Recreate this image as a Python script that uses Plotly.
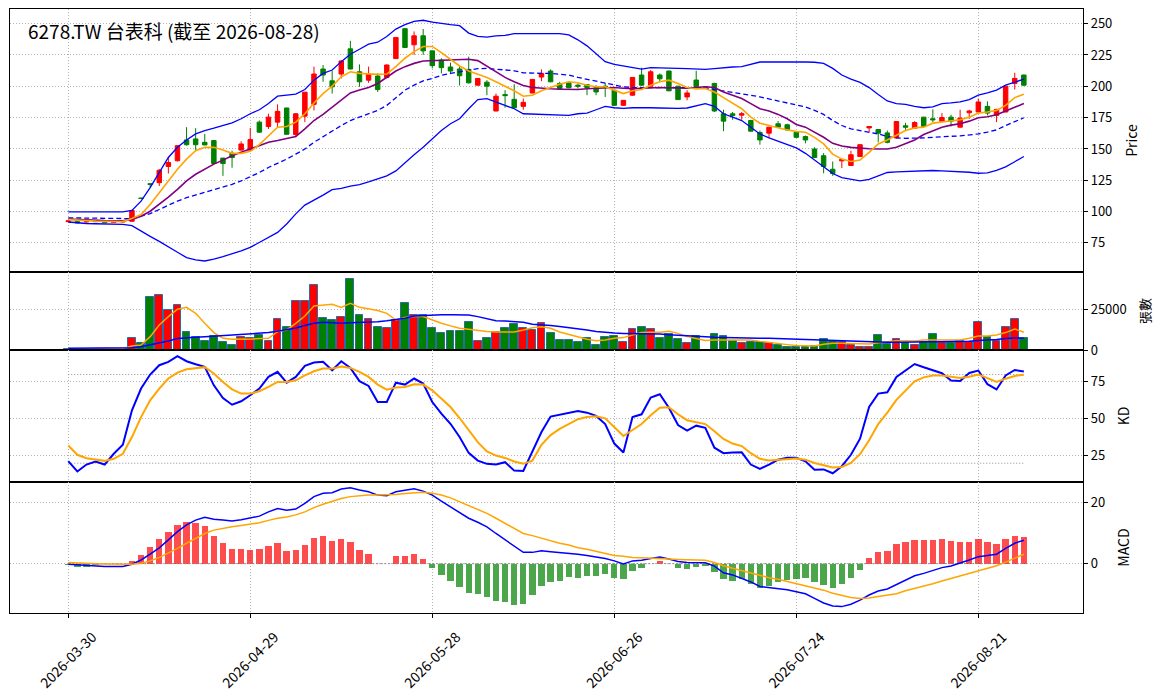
import plotly.graph_objects as go
from plotly.subplots import make_subplots

# ---------------- data ----------------
tick_pos = [0, 20, 40, 60, 80, 100]
tick_dates = ['2026-03-30', '2026-04-29', '2026-05-28', '2026-06-26', '2026-07-24', '2026-08-21']

opens = [92.0, 92.0, 91.8, 92.5, 92.0, 91.4, 91.8, 92.3, 110.8, 122.2,
         123.1, 136.0, 140.6, 157.2, 158.0, 155.3, 156.7, 142.7, 146.5, 149.1,
         149.1, 171.4, 167.9, 171.4, 182.7, 161.5, 176.2, 185.6, 213.8, 204.4,
         209.8, 229.9, 211.6, 204.9, 208.2, 207.1, 222.1, 246.0, 233.1, 240.3,
         228.3, 221.0, 215.4, 213.8, 213.5, 200.9, 203.3, 180.3, 193.4, 189.6,
         184.0, 194.7, 207.4, 212.2, 202.2, 202.8, 200.9, 201.4, 198.8, 200.1,
         196.9, 184.8, 192.9, 209.0, 200.1, 209.0, 212.2, 200.1, 191.5, 205.0,
         199.6, 202.3, 178.1, 178.1, 177.0, 172.7, 163.1, 162.6, 170.1, 169.3,
         163.4, 159.9, 150.0, 144.6, 133.8, 140.5, 136.8, 144.0, 166.8, 165.5,
         162.8, 158.8, 168.5, 166.6, 175.4, 174.1, 172.2, 175.4, 167.4, 178.9,
         179.5, 184.0, 176.8, 179.5, 202.3, 209.0]
highs = [93.2, 92.4, 92.2, 92.8, 92.3, 92.2, 92.4, 101.5, 111.0, 122.4,
         134.0, 143.8, 152.8, 167.4, 166.6, 162.0, 157.2, 142.9, 148.6, 156.1,
         166.8, 172.7, 178.1, 185.6, 182.9, 178.6, 195.5, 215.7, 217.0, 212.4,
         221.0, 236.3, 217.5, 215.7, 210.3, 217.5, 239.3, 246.5, 243.8, 245.7,
         228.6, 222.4, 218.9, 215.7, 223.7, 206.6, 204.9, 194.2, 196.9, 201.7,
         190.2, 205.8, 213.5, 213.5, 203.6, 203.1, 202.2, 201.7, 200.9, 202.8,
         197.2, 189.0, 207.4, 214.9, 213.0, 210.3, 212.5, 200.4, 196.9, 212.4,
         199.6, 202.8, 181.3, 179.5, 179.5, 173.3, 164.7, 167.6, 172.2, 170.1,
         164.0, 160.7, 151.3, 146.7, 140.0, 142.0, 148.6, 153.6, 168.1, 165.8,
         164.7, 172.1, 170.9, 172.2, 175.6, 181.6, 178.6, 177.3, 181.3, 181.3,
         190.2, 188.0, 182.0, 200.4, 210.8, 209.3]
lows = [91.5, 90.6, 91.4, 91.8, 90.8, 91.2, 91.5, 92.0, 110.2, 119.2,
        120.4, 130.4, 140.0, 152.6, 148.6, 153.0, 137.9, 128.5, 135.0, 148.6,
        148.6, 163.0, 166.0, 167.4, 161.5, 159.3, 171.4, 180.8, 203.6, 194.2,
        206.3, 213.5, 199.6, 202.8, 195.5, 206.3, 221.8, 230.7, 225.1, 225.1,
        214.3, 210.3, 209.8, 200.6, 202.2, 200.6, 192.9, 180.0, 182.9, 182.1,
        181.3, 194.4, 204.1, 203.3, 197.9, 198.5, 198.2, 192.9, 192.9, 191.5,
        184.5, 184.5, 192.6, 200.1, 199.8, 203.6, 196.1, 189.1, 188.8, 199.0,
        199.6, 179.5, 164.2, 173.3, 173.3, 164.0, 153.4, 158.8, 167.0, 164.7,
        158.8, 154.5, 142.7, 130.6, 128.5, 134.7, 136.5, 143.8, 163.4, 155.3,
        154.5, 158.6, 165.2, 166.0, 167.4, 171.4, 172.0, 167.9, 167.2, 174.1,
        179.3, 176.8, 171.4, 179.2, 197.4, 200.1]
closes = [92.6, 91.0, 92.0, 92.0, 91.2, 91.8, 92.0, 100.9, 110.5, 121.8,
          133.0, 139.2, 152.6, 153.4, 153.4, 153.2, 138.4, 138.4, 143.2, 154.0,
          157.5, 163.4, 175.4, 180.0, 161.7, 178.1, 195.3, 209.8, 209.0, 199.6,
          220.2, 213.8, 203.6, 209.8, 197.4, 217.0, 239.0, 231.0, 240.3, 228.3,
          216.5, 214.9, 212.2, 208.4, 202.8, 206.3, 200.1, 192.1, 192.6, 182.9,
          187.2, 205.5, 210.3, 203.6, 198.2, 198.8, 200.1, 199.0, 195.5, 199.3,
          184.8, 188.8, 207.1, 200.9, 211.6, 206.0, 196.4, 189.4, 194.7, 199.6,
          199.6, 180.3, 172.2, 176.8, 178.1, 164.2, 157.2, 167.4, 167.4, 165.2,
          159.3, 157.2, 143.2, 136.0, 130.4, 141.6, 145.4, 153.4, 167.9, 162.6,
          155.3, 171.9, 167.4, 171.1, 167.9, 173.3, 175.1, 172.2, 174.6, 180.3,
          187.5, 178.6, 181.6, 200.1, 206.3, 200.9]
volumes = [600, 400, 400, 500, 400, 500, 600, 7200, 4500, 32400,
           33800, 24600, 27700, 11100, 7800, 5500, 8600, 4900, 2900, 7800,
           7200, 9000, 5700, 18900, 13900, 30300, 30300, 39700, 19500, 18400,
           20500, 43400, 21300, 19300, 13900, 13300, 18400, 28700, 21700, 21700,
           13300, 10200, 11900, 11900, 17000, 5700, 7200, 11300, 13300, 16000,
           13300, 12300, 16400, 10200, 5900, 5900, 4700, 7200, 3300, 7800,
           8400, 4700, 12700, 13900, 12700, 7200, 9600, 6600, 4100, 8600,
           0, 9600, 8400, 5500, 4100, 4900, 4900, 4100, 2900, 1600,
           1600, 1600, 2500, 6600, 5300, 5100, 3100, 2000, 2000, 9000,
           3500, 6600, 4100, 3300, 4900, 9600, 4500, 4100, 5700, 5100,
           17000, 8200, 5300, 14300, 18900, 7200]

ma5 = [93.6, 93.0, 92.6, 92.4, 92.2, 92.0, 92.0, 94.5, 97.6, 105.7,
       115.1, 124.5, 133.8, 141.9, 148.6, 151.3, 151.3, 149.1, 146.5, 146.5,
       148.1, 153.4, 160.7, 167.4, 167.9, 171.4, 178.1, 186.7, 194.2, 200.1,
       207.6, 211.6, 210.3, 209.8, 209.5, 209.8, 215.7, 222.4, 227.7, 231.8,
       231.8, 226.9, 221.6, 216.2, 212.2, 209.8, 207.1, 203.6, 200.1, 196.4,
       192.1, 192.9, 196.4, 199.0, 201.7, 203.6, 202.8, 200.9, 199.6, 199.6,
       196.9, 194.2, 196.4, 197.4, 200.9, 203.6, 204.9, 202.3, 199.0, 197.8,
       198.2, 195.5, 191.0, 186.7, 182.1, 175.4, 170.6, 168.7, 166.8, 165.2,
       163.9, 163.4, 159.3, 154.0, 145.9, 141.9, 140.0, 141.1, 147.3, 154.0,
       157.2, 160.7, 164.7, 166.8, 167.4, 170.6, 171.4, 172.2, 173.3, 175.4,
       178.6, 179.5, 180.8, 184.8, 191.0, 193.7]
ma10 = [94.0, 93.6, 93.3, 93.0, 92.8, 92.7, 92.6, 93.8, 96.3, 100.3,
        105.7, 111.6, 117.8, 124.5, 129.8, 133.8, 137.9, 141.1, 144.6, 147.3,
        150.0, 152.6, 155.3, 156.7, 158.0, 159.9, 166.0, 172.7, 177.6, 183.5,
        189.4, 194.7, 197.0, 199.0, 202.3, 207.1, 212.2, 215.7, 218.3, 220.2,
        220.5, 220.5, 220.8, 221.0, 221.6, 220.5, 216.2, 211.6, 207.1, 203.6,
        200.6, 199.0, 198.2, 198.0, 197.7, 197.4, 197.4, 198.0, 198.5, 199.0,
        199.0, 198.5, 198.0, 198.5, 199.0, 199.0, 198.8, 198.5, 198.5, 199.0,
        199.6, 199.0, 195.5, 192.9, 190.2, 186.2, 182.1, 180.3, 177.6, 174.1,
        169.5, 167.4, 163.4, 159.3, 154.5, 152.4, 151.3, 150.5, 150.2, 150.0,
        150.0, 151.3, 154.0, 157.2, 161.5, 164.7, 167.4, 169.0, 170.1, 172.2,
        174.9, 175.7, 177.3, 180.3, 183.5, 186.2]
ma20 = [95.0, 94.9, 94.8, 94.7, 94.6, 94.5, 94.4, 94.4, 96.3, 98.4,
        101.7, 105.2, 108.4, 111.1, 113.2, 115.1, 117.0, 119.1, 121.8, 124.5,
        127.7, 131.2, 135.2, 138.4, 141.9, 145.9, 150.0, 155.3, 159.9, 164.7,
        168.7, 172.7, 175.6, 178.1, 180.8, 184.8, 191.0, 196.9, 200.9, 204.4,
        206.3, 208.7, 210.3, 211.6, 213.0, 214.1, 214.3, 213.8, 213.0, 212.4,
        210.8, 210.3, 210.3, 210.3, 209.8, 209.0, 207.1, 205.5, 203.9, 202.3,
        200.9, 199.6, 199.0, 199.0, 199.0, 199.0, 199.0, 199.0, 199.0, 199.0,
        199.0, 197.4, 196.4, 195.3, 194.2, 192.9, 191.5, 189.9, 188.0, 186.2,
        184.8, 183.5, 180.8, 177.6, 172.7, 168.7, 166.0, 164.7, 163.4, 162.0,
        159.9, 158.8, 158.5, 158.5, 158.8, 159.3, 159.9, 160.1, 160.4, 160.9,
        162.0, 163.4, 165.2, 168.7, 171.9, 174.9]
bb_upper = [99.8, 99.8, 99.8, 99.8, 99.8, 99.8, 99.8, 100.9, 108.4, 119.1,
            131.2, 143.2, 151.3, 157.2, 162.0, 164.7, 166.6, 168.7, 170.9, 174.1,
            178.1, 181.3, 186.2, 192.1, 192.9, 193.7, 197.4, 204.9, 210.3, 213.0,
            219.7, 225.6, 229.6, 233.6, 235.2, 239.8, 245.7, 249.2, 251.9, 252.7,
            251.3, 250.0, 249.2, 248.4, 242.5, 239.8, 239.3, 240.3, 240.6, 242.0,
            242.2, 242.0, 242.0, 242.0, 242.0, 241.1, 237.1, 232.3, 225.9, 219.7,
            217.5, 216.2, 214.9, 213.8, 214.9, 214.9, 214.9, 214.3, 214.1, 213.8,
            213.5, 214.1, 214.9, 215.4, 215.7, 217.5, 219.4, 219.4, 219.2, 219.2,
            219.4, 219.4, 219.2, 218.3, 214.3, 209.0, 205.7, 203.1, 199.0, 193.4,
            188.3, 186.2, 185.6, 184.0, 182.9, 183.5, 186.2, 186.7, 187.5, 189.4,
            192.9, 194.7, 196.9, 200.9, 203.6, 205.7]
bb_lower = [91.7, 90.8, 90.5, 90.3, 90.1, 90.0, 89.8, 88.8, 84.2, 80.2,
            76.2, 72.2, 67.6, 63.3, 61.4, 60.6, 62.0, 64.1, 66.3, 68.7,
            71.4, 75.6, 79.4, 83.4, 90.1, 98.2, 105.2, 108.9, 113.2, 117.5,
            118.6, 120.4, 121.5, 123.7, 125.8, 128.5, 132.5, 139.2, 145.4, 151.3,
            158.0, 164.7, 170.1, 174.1, 182.1, 189.4, 190.2, 187.5, 184.8, 182.1,
            178.1, 177.8, 177.8, 177.6, 177.3, 176.8, 178.1, 178.6, 181.3, 184.0,
            182.9, 182.4, 182.9, 183.2, 182.9, 182.7, 182.4, 182.4, 182.7, 184.5,
            186.2, 184.0, 178.1, 175.4, 172.7, 167.4, 162.0, 158.8, 156.1, 154.0,
            150.8, 146.5, 141.1, 135.2, 130.4, 127.1, 125.8, 124.5, 125.8, 128.5,
            131.2, 131.7, 132.0, 132.5, 133.0, 132.8, 132.5, 132.2, 132.0, 131.4,
            130.6, 130.9, 133.0, 135.7, 139.8, 144.0]

vol_ma5 = [600, 600, 600, 600, 600, 600, 1000, 2500, 3100, 8200,
           15400, 20500, 25000, 26200, 22500, 16400, 10700, 7200, 6600, 6800,
           6600, 7000, 7200, 11300, 12300, 16400, 20900, 27000, 27700, 28100,
           26200, 28700, 26200, 25000, 24200, 22500, 18400, 19900, 20500, 20500,
           18400, 16400, 14800, 13300, 12700, 11900, 11300, 11100, 11100, 11100,
           12300, 13700, 14300, 13300, 11100, 9600, 8200, 6600, 5700, 6100,
           7200, 7600, 9200, 10700, 10900, 10900, 11500, 10200, 8200, 7200,
           5900, 6100, 6100, 5700, 5700, 6100, 5300, 4500, 4100, 3300,
           2700, 2500, 2500, 3500, 4100, 4100, 4100, 4100, 3700, 4500,
           5300, 5700, 5700, 5500, 6100, 6100, 6100, 6100, 6100, 7200,
           8600, 8600, 9200, 10700, 12900, 10900]
vol_ma20 = [1000, 1000, 1000, 1000, 1000, 1000, 1000, 1400, 2000, 3100,
            4500, 5500, 7000, 7600, 7800, 8200, 8600, 8800, 9000, 9400,
            9800, 10200, 10700, 11500, 12300, 13500, 15000, 16400, 17000, 16800,
            16400, 16800, 17000, 17000, 17400, 18000, 18900, 19500, 20900, 21300,
            21700, 21700, 21700, 21700, 21500, 20500, 19300, 18000, 17800, 17600,
            17000, 15800, 15200, 15000, 14500, 13900, 13300, 12300, 11300, 10700,
            10400, 10200, 10200, 10200, 10000, 9800, 9400, 9000, 8600, 8200,
            7800, 7800, 7600, 7400, 7200, 7200, 7200, 7200, 7000, 6800,
            6600, 6400, 6100, 5700, 5500, 5300, 5100, 4900, 4900, 4700,
            4700, 4700, 4900, 4900, 4900, 5100, 5100, 5100, 5300, 5300,
            5900, 6100, 6400, 7000, 7400, 7200]

k_vals = [21.4, 14.4, 19.1, 21.2, 19.1, 26.4, 32.5, 55.8, 70.5, 80.0,
          86.3, 88.6, 92.4, 89.0, 87.0, 85.2, 72.7, 64.1, 59.6, 61.9,
          66.0, 70.5, 78.4, 81.8, 74.5, 78.4, 85.9, 88.1, 88.6, 82.9,
          89.0, 84.5, 75.5, 72.3, 61.4, 61.4, 74.5, 73.2, 77.3, 73.9,
          61.4, 53.5, 46.7, 37.7, 27.0, 21.8, 19.6, 19.1, 20.7, 15.0,
          14.8, 27.5, 41.1, 51.6, 53.0, 54.2, 55.3, 54.2, 52.0, 46.5,
          33.3, 27.2, 51.3, 53.1, 64.5, 66.7, 57.5, 45.8, 42.1, 45.4,
          43.9, 30.5, 26.8, 27.2, 27.4, 19.1, 16.2, 19.1, 22.4, 23.7,
          23.7, 21.3, 15.6, 15.8, 13.2, 18.0, 25.7, 36.6, 58.1, 67.1,
          68.0, 78.3, 82.7, 87.1, 84.9, 82.7, 80.9, 75.9, 75.7, 81.1,
          82.7, 73.5, 69.9, 79.4, 83.1, 82.0]
d_vals = [32.0, 25.7, 23.4, 22.5, 21.6, 23.0, 26.4, 37.7, 51.2, 62.6,
          70.5, 77.3, 81.3, 83.6, 84.5, 85.0, 80.7, 75.0, 70.0, 67.1,
          67.1, 68.7, 71.6, 75.0, 75.0, 76.1, 79.5, 82.2, 84.0, 84.0,
          85.4, 84.5, 81.8, 78.4, 73.2, 69.8, 71.2, 71.6, 73.4, 73.2,
          69.3, 63.7, 58.0, 50.6, 42.2, 34.3, 28.0, 25.2, 23.6, 21.2,
          19.6, 21.8, 32.5, 39.0, 43.2, 46.5, 49.8, 51.3, 51.8, 50.4,
          44.3, 38.4, 42.5, 46.5, 52.4, 57.5, 57.9, 53.1, 49.1, 47.6,
          46.5, 41.7, 36.4, 33.3, 31.6, 26.8, 23.0, 21.9, 22.4, 23.0,
          23.2, 22.4, 20.2, 18.6, 17.1, 17.5, 20.2, 26.1, 35.5, 46.5,
          54.2, 62.9, 69.5, 75.4, 78.1, 79.4, 79.4, 78.3, 77.6, 78.5,
          80.0, 77.6, 75.0, 77.2, 79.0, 79.8]

dif_vals = [-0.2, -0.4, -0.7, -0.8, -0.9, -0.9, -0.9, -0.2, 1.2, 3.1,
            5.2, 7.8, 10.5, 12.7, 14.3, 15.2, 14.6, 14.3, 14.0, 14.4,
            14.9, 15.6, 17.0, 18.1, 17.5, 17.9, 19.8, 22.0, 23.1, 23.3,
            24.5, 24.9, 24.2, 23.6, 22.5, 22.3, 23.6, 24.0, 24.6, 23.8,
            22.5, 20.5, 18.7, 16.7, 14.9, 13.6, 12.1, 9.9, 7.8, 5.6,
            3.7, 3.7, 4.2, 3.9, 3.7, 3.4, 3.1, 2.7, 2.2, 1.7,
            0.9, -0.1, 0.9, 1.1, 1.7, 2.2, 1.5, 0.7, 0.4, 0.4,
            0.3, -0.8, -3.0, -3.7, -4.8, -6.0, -7.5, -7.9, -8.1, -8.6,
            -9.2, -9.9, -11.4, -12.9, -13.9, -14.1, -13.3, -12.0, -10.3, -9.0,
            -8.3, -6.8, -5.4, -4.0, -3.2, -2.2, -1.3, -0.8, 0.1, 1.2,
            2.3, 2.6, 3.1, 5.0, 6.7, 7.7]
dea_vals = [0.4, 0.2, 0.1, 0.0, -0.1, -0.2, -0.2, -0.2, 0.1, 0.9,
            2.0, 3.4, 5.0, 6.7, 8.3, 9.9, 11.0, 11.6, 12.1, 12.5,
            12.9, 13.4, 14.2, 14.9, 15.3, 16.0, 17.0, 18.4, 19.5, 20.5,
            21.4, 22.0, 22.3, 22.5, 22.5, 22.5, 22.7, 23.0, 23.2, 23.4,
            23.1, 22.5, 21.6, 20.3, 19.0, 17.8, 16.5, 14.9, 13.2, 11.4,
            9.9, 9.2, 8.3, 7.5, 6.7, 6.1, 5.2, 4.7, 4.0, 3.4,
            2.7, 2.4, 2.0, 1.9, 1.7, 1.6, 1.5, 1.4, 1.3, 1.2,
            1.1, 0.4, -0.7, -1.5, -2.3, -3.1, -3.7, -4.6, -5.1, -5.8,
            -6.4, -7.1, -7.9, -8.7, -9.7, -10.5, -11.1, -11.4, -11.3, -10.8,
            -10.4, -9.9, -8.9, -8.2, -7.4, -6.6, -5.7, -4.9, -4.0, -3.3,
            -2.3, -1.5, -0.7, 0.5, 1.7, 3.1]
hist_vals = [-0.4, -1.0, -1.0, -0.3, -0.2, -0.2, -0.2, 0.9, 2.7, 5.4,
             8.0, 10.3, 12.6, 13.6, 13.2, 12.2, 9.0, 6.7, 4.7, 4.7,
             4.5, 4.7, 5.7, 6.7, 4.0, 4.4, 6.0, 8.3, 9.0, 7.4,
             8.0, 7.0, 4.4, 3.1, 0.0, -0.1, 2.4, 2.4, 3.1, 1.4,
             -1.4, -3.7, -5.7, -7.7, -9.6, -9.9, -10.9, -12.2, -12.6, -13.6,
             -13.2, -10.3, -7.3, -6.0, -5.7, -4.5, -4.6, -4.2, -4.0, -3.4,
             -4.8, -5.0, -2.4, -1.5, 0.0, 0.9, 0.0, -1.5, -1.9, -1.2,
             -0.8, -2.8, -5.0, -5.7, -5.2, -6.8, -7.9, -7.2, -6.1, -5.4,
             -5.0, -4.8, -6.1, -7.0, -8.1, -6.8, -4.8, -2.2, 1.7, 3.7,
             4.2, 6.3, 7.0, 7.7, 7.7, 7.7, 8.0, 7.4, 7.0, 7.0,
             8.0, 7.0, 6.3, 8.0, 9.2, 8.9]

kd_levels = [20, 80]
title_text = '6278.TW 台表科 (截至 2026-08-28)'

# ---------------- figure ----------------
idx = list(range(len(closes)))
UP, DOWN = '#ff0000', '#008000'
FONT = 'Noto Sans CJK TC, Noto Sans CJK SC, sans-serif'

fig = make_subplots(rows=4, cols=1, shared_xaxes=True, vertical_spacing=0,
                    row_heights=[263, 78, 132, 131])

# price panel
fig.add_trace(go.Candlestick(
    x=idx, open=opens, high=highs, low=lows, close=closes,
    increasing=dict(line=dict(color=UP, width=1), fillcolor=UP),
    decreasing=dict(line=dict(color=DOWN, width=1), fillcolor=DOWN),
    hoverinfo='skip', showlegend=False), row=1, col=1)
fig.add_trace(go.Scatter(x=idx, y=bb_upper, mode='lines', line=dict(color='#0000ff', width=1.3)), row=1, col=1)
fig.add_trace(go.Scatter(x=idx, y=bb_lower, mode='lines', line=dict(color='#0000ff', width=1.3)), row=1, col=1)
fig.add_trace(go.Scatter(x=idx, y=ma20, mode='lines', line=dict(color='#0000ff', width=1.3, dash='5px,3px')), row=1, col=1)
fig.add_trace(go.Scatter(x=idx, y=ma10, mode='lines', line=dict(color='#800080', width=1.6)), row=1, col=1)
fig.add_trace(go.Scatter(x=idx, y=ma5, mode='lines', line=dict(color='#ffa500', width=1.6)), row=1, col=1)

# volume panel
vol_colors = [UP if c >= o else DOWN for o, c in zip(opens, closes)]
fig.add_trace(go.Bar(x=idx, y=volumes, width=0.86, marker=dict(color=vol_colors, line=dict(color='#2b6ca8', width=1)),
                     hoverinfo='skip'), row=2, col=1)
fig.add_trace(go.Scatter(x=idx, y=vol_ma5, mode='lines', line=dict(color='#ffa500', width=1.5)), row=2, col=1)
fig.add_trace(go.Scatter(x=idx, y=vol_ma20, mode='lines', line=dict(color='#0000ff', width=1.5)), row=2, col=1)

# KD panel
for lv in kd_levels:
    fig.add_trace(go.Scatter(x=[idx[0], idx[-1]], y=[lv, lv], mode='lines',
                             line=dict(color='#8f8f8f', width=1, dash='1px,2px')), row=3, col=1)
fig.add_trace(go.Scatter(x=idx, y=k_vals, mode='lines', line=dict(color='#0000ff', width=2)), row=3, col=1)
fig.add_trace(go.Scatter(x=idx, y=d_vals, mode='lines', line=dict(color='#ffa500', width=2)), row=3, col=1)

# MACD panel
hist_colors = ['rgba(255,0,0,0.7)' if h >= 0 else 'rgba(0,128,0,0.7)' for h in hist_vals]
fig.add_trace(go.Bar(x=idx, y=hist_vals, width=0.7, marker=dict(color=hist_colors, line=dict(width=0)),
                     hoverinfo='skip'), row=4, col=1)
fig.add_trace(go.Scatter(x=[idx[0], idx[-1]], y=[0, 0], mode='lines',
                         line=dict(color='#8a8a8a', width=1, dash='2px,2px')), row=4, col=1)
fig.add_trace(go.Scatter(x=idx, y=dif_vals, mode='lines', line=dict(color='#0000ff', width=1.5)), row=4, col=1)
fig.add_trace(go.Scatter(x=idx, y=dea_vals, mode='lines', line=dict(color='#ffa500', width=1.5)), row=4, col=1)

# axes
grid = dict(showgrid=True, gridcolor='#b3b3b3', griddash='1px,2px', gridwidth=1,
            showline=True, mirror=True, linecolor='black', linewidth=1.2, zeroline=False,
            automargin=False)
for r in range(1, 5):
    fig.update_xaxes(range=[-6.4, 111.5], tickmode='array', tickvals=tick_pos, ticktext=tick_dates,
                     rangeslider_visible=False, showticklabels=False, **grid, row=r, col=1)
fig.update_xaxes(ticks='outside', ticklen=4, tickcolor='black', row=4, col=1)

# rotated date labels centred under their ticks (as in the reference)
for p, d in zip(tick_pos, tick_dates):
    fig.add_annotation(text=d, x=p, xref='x4', y=0, yref='paper', xanchor='center', yanchor='top',
                       yshift=-11, textangle=-45, showarrow=False,
                       font=dict(size=14, color='black', family=FONT))

yc = dict(side='right', ticks='outside', ticklen=4, tickcolor='black', tickfont=dict(size=13), **grid)
fig.update_yaxes(range=[51.8, 261.7], tickvals=[75, 100, 125, 150, 175, 200, 225, 250],
                 title=dict(text='Price', font=dict(size=14)), **yc, row=1, col=1)
fig.update_yaxes(range=[0, 47900], tickvals=[0, 25000], ticktext=['0', '25000'],
                 title=dict(text='張數', font=dict(size=13)), **yc, row=2, col=1)
fig.update_yaxes(range=[7.3, 96.6], tickvals=[25, 50, 75],
                 title=dict(text='KD', font=dict(size=14)), **yc, row=3, col=1)
fig.update_yaxes(range=[-16.2, 26.8], tickvals=[0, 20],
                 title=dict(text='MACD', font=dict(size=14)), **yc, row=4, col=1)

fig.add_annotation(text=title_text, xref='paper', yref='paper', x=0.0149, y=0.9636,
                   xanchor='left', yanchor='middle', showarrow=False,
                   font=dict(size=19, color='black', family=FONT))

# the page adds an 8px body margin, so the margins are offset to place the plot area as in the reference
fig.update_layout(width=1164, height=698, margin=dict(l=2, r=89, t=1, b=93, autoexpand=False),
                  paper_bgcolor='white', plot_bgcolor='white', showlegend=False,
                  font=dict(family=FONT, size=13, color='black'), bargap=0, hovermode=False)

fig.write_html('out.html')
